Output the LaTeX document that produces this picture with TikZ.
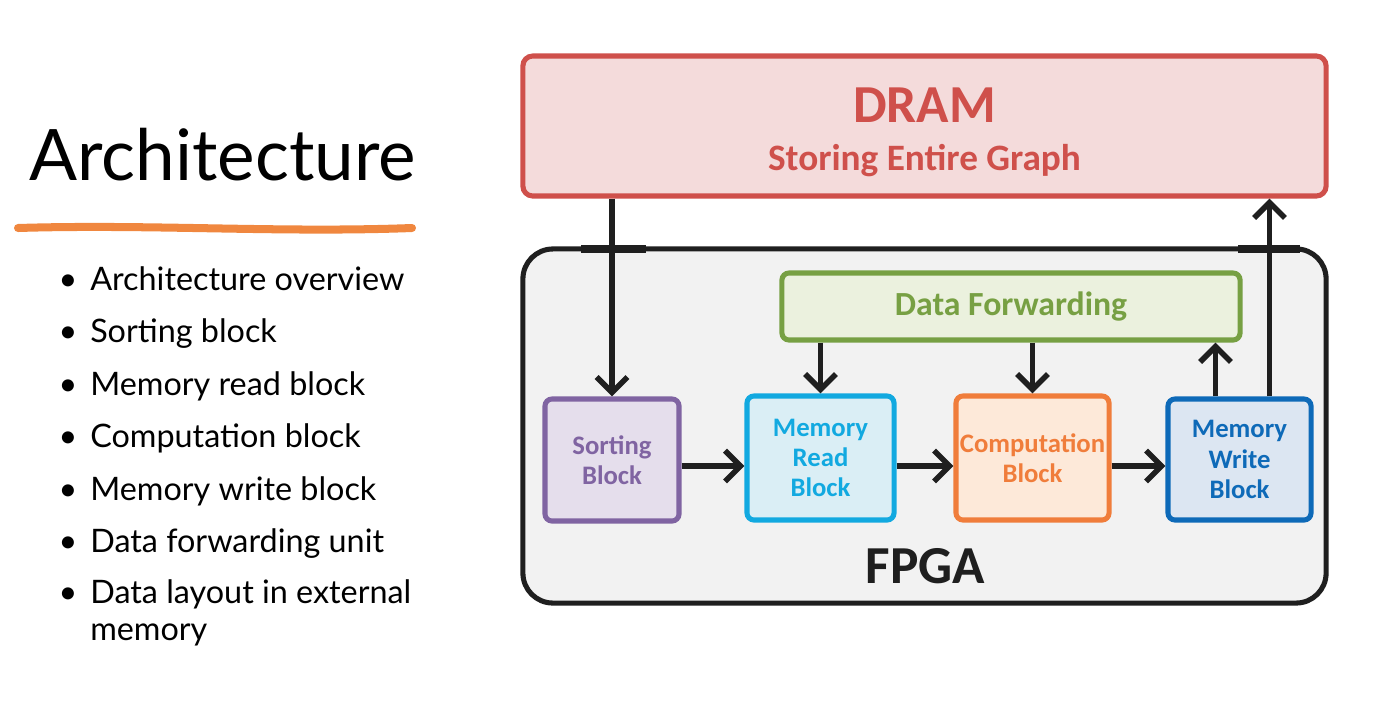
\documentclass[tikz,border=0pt]{standalone}
\usepackage{fontspec}
\setmainfont{Lato}
\newfontfamily\calib{Carlito}
\usetikzlibrary{arrows.meta,positioning}
\definecolor{dramred}{HTML}{CF504B}
\definecolor{dramfill}{HTML}{F4DBDB}
\definecolor{fpgafill}{HTML}{F2F2F2}
\definecolor{fwdgreen}{HTML}{77A043}
\definecolor{fwdfill}{HTML}{EBF1DE}
\definecolor{sortpurple}{HTML}{8064A2}
\definecolor{sortfill}{HTML}{E5DEEC}
\definecolor{readcyan}{HTML}{12A9E0}
\definecolor{readfill}{HTML}{DAEEF5}
\definecolor{comporange}{HTML}{F07D3B}
\definecolor{compfill}{HTML}{FDE9D9}
\definecolor{writeblue}{HTML}{0E6AB8}
\definecolor{writefill}{HTML}{DCE6F2}
\definecolor{ulorange}{HTML}{F0873F}
\definecolor{wire}{HTML}{1F1F1F}

\begin{document}
\begin{tikzpicture}[x = 0.025cm, y = -0.025cm,
    box/.style = {draw, line width = 3.6pt, rounded corners = 5pt, inner sep = 0pt},
    blk/.style = {box, align = center, font = \calib\bfseries\fontsize{19}{21.5}\selectfont},
    arr/.style = {draw = wire, line width = 4pt, -{Straight Barb[length = 11pt, width = 22pt]}},
    item/.style = {anchor = base west, inner sep = 0pt, font = \fontsize{23}{26}\selectfont}]
    \useasboundingbox (0,0) rectangle (1391,724);
    \node[anchor = base west, inner sep = 0pt, font = \fontsize{50.5}{60}\selectfont] (title) at (29,180) {Architecture};
    \draw[ulorange, line width = 5.7pt, line cap = round] (18,228) .. controls (150,224) and (280,233) .. (412,228);
    \foreach \y/\txt [count = \i] in {290/Architecture overview, 342/Sorting block, 395/Memory read block,
        447/Computation block, 500/Memory write block, 552/Data forwarding unit, 603/Data layout in external}
        \node[item] (item\i) at (90,\y) {\txt} node[item, anchor = base] (dot\i) at (68,\y) {\textbullet};
    \node[item] (item7b) at (90,640) {memory};

    \node[box, draw = dramred, fill = dramfill, minimum width = 20.075cm, minimum height = 3.5cm, rounded corners = 7pt] (dram) at (924.5,126) {};
    \node[font = \calib\bfseries\fontsize{38}{40}\selectfont, text = dramred, anchor = base] (dramtxt) at (924.5,122) {DRAM};
    \node[font = \calib\bfseries\fontsize{26.5}{28}\selectfont, text = dramred, anchor = base] (dramsub) at (924.5,170) {Storing Entire Graph};
    \node[box, draw = wire, fill = fpgafill, minimum width = 20.075cm, minimum height = 8.85cm, rounded corners = 0.75cm] (fpga) at (924.5,426) {};
    \node[font = \calib\bfseries\fontsize{38}{40}\selectfont, text = wire, anchor = base] (fpgatxt) at (925.5,583) {FPGA};
    \draw[wire, line width = 6pt] (581,249) -- (646,249) (1238,249) -- (1300,249);

    \node[box, draw = fwdgreen, fill = fwdfill, minimum width = 11.45cm, minimum height = 1.675cm, text = fwdgreen,
        font = \calib\bfseries\fontsize{24}{26}\selectfont] (fwd) at (1011,306.5) {Data Forwarding};
    \node[blk, draw = sortpurple, fill = sortfill, text = sortpurple, minimum width = 3.35cm, minimum height = 3.05cm] (sort) at (612,460) {Sorting\\Block};
    \node[blk, draw = readcyan, fill = readfill, text = readcyan, minimum width = 3.675cm, minimum height = 3.1cm] (mread) at (820.5,458) {Memory\\Read\\Block};
    \node[blk, draw = comporange, fill = compfill, text = comporange, minimum width = 3.825cm, minimum height = 3.1cm] (comp) at (1032.5,458) {Computation\\Block};
    \node[blk, draw = writeblue, fill = writefill, text = writeblue, minimum width = 3.575cm, minimum height = 3.025cm] (mwrite) at (1239.5,459.5) {Memory\\Write\\Block};

    \coordinate (ah) at (0,466);
    \draw[arr] (sort.east |- ah) -- (mread.west |- ah);
    \draw[arr] (mread.east |- ah) -- (comp.west |- ah);
    \draw[arr] (comp.east |- ah) -- (mwrite.west |- ah);
    \draw[arr] (sort.north |- dram.south) -- (sort.north);
    \draw[arr] (mread.north |- fwd.south) -- (mread.north);
    \draw[arr] (comp.north |- fwd.south) -- (comp.north);
    \draw[arr] ([xshift = -0.6cm]mwrite.north) -- ([xshift = -0.6cm]mwrite.north |- fwd.south);
    \draw[arr] ([xshift = 0.75cm]mwrite.north) -- ([xshift = 0.75cm]mwrite.north |- dram.south);
\end{tikzpicture}
\end{document}
